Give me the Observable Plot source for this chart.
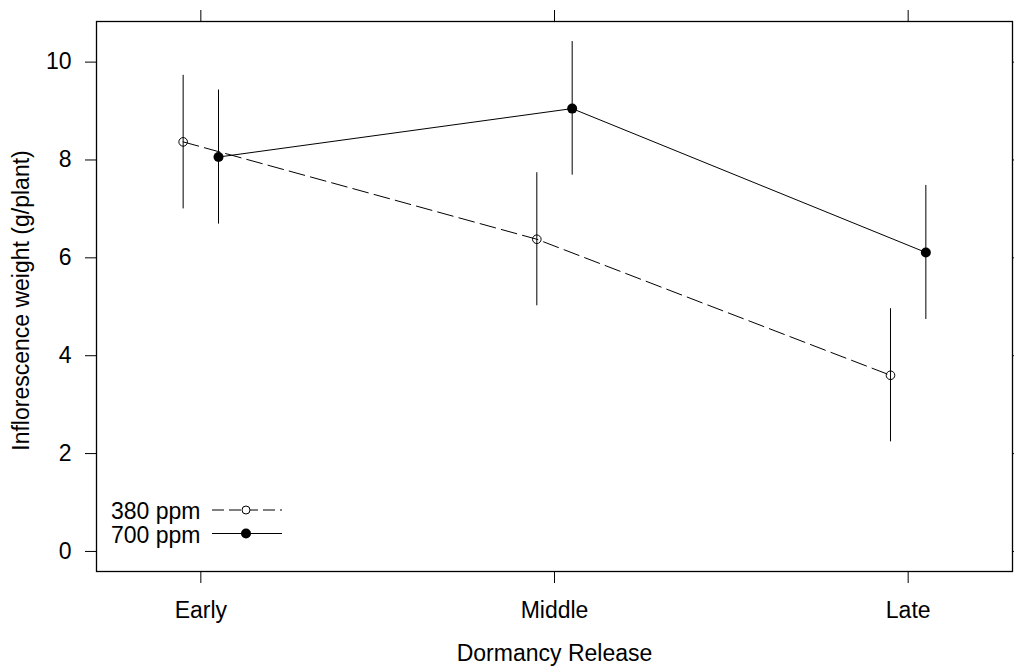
<!DOCTYPE html>
<html><head><meta charset="utf-8">
<script src="https://cdn.jsdelivr.net/npm/d3@7"></script>
<script src="https://cdn.jsdelivr.net/npm/@observablehq/plot@0.6"></script>
<style>body{margin:0;background:#fff} svg{display:block}</style>
</head><body><div id="chart"></div>
<script>
const categories = ["Early", "Middle", "Late"];
const seriesNames = ["380 ppm", "700 ppm"];
const mean380 = [8.37, 6.38, 3.60];
const lo380   = [7.00, 5.02, 2.24];
const hi380   = [9.73, 7.74, 4.96];
const mean700 = [8.06, 9.05, 6.11];
const lo700   = [6.69, 7.69, 4.74];
const hi700   = [9.43, 10.42, 7.48];
const yTicks = [0, 2, 4, 6, 8, 10];
const xLabel = "Dormancy Release";
const yLabel = "Inflorescence weight (g/plant)";

const OFFSET = 0.05;
const rows380 = categories.map((c, i) => ({series: seriesNames[0], cat: c, pos: i + 1 - OFFSET, mean: mean380[i], lo: lo380[i], hi: hi380[i]}));
const rows700 = categories.map((c, i) => ({series: seriesNames[1], cat: c, pos: i + 1 + OFFSET, mean: mean700[i], lo: lo700[i], hi: hi700[i]}));
const rows = rows380.concat(rows700);

const font = "'Liberation Sans', Arial, Helvetica, sans-serif";
const fs = 23;
const DASH = "16,6";

const plot = Plot.plot({
  width: 1014, height: 672,
  marginLeft: 96, marginRight: 2, marginTop: 21, marginBottom: 101,
  style: {fontFamily: font, fontSize: fs + "px", color: "black", background: "white", overflow: "visible"},
  x: {type: "linear", domain: [0.705, 3.295]},
  y: {domain: [-0.41, 10.83]},
  marks: [
    Plot.axisX({anchor: "bottom", ticks: [1, 2, 3], tickFormat: d => categories[d - 1], tickSize: 12, tickPadding: 18, label: null, fontSize: fs, stroke: "black"}),
    Plot.axisX({anchor: "top", ticks: [1, 2, 3], tickFormat: () => "", tickSize: 12, label: null, stroke: "black"}),
    Plot.axisY({anchor: "left", ticks: yTicks, tickSize: 11, tickPadding: 14, label: null, fontSize: fs, stroke: "black"}),
    Plot.axisY({anchor: "right", ticks: yTicks, tickFormat: () => "", tickSize: 12, label: null, stroke: "black"}),
    Plot.text([yLabel], {frameAnchor: "left", dx: -68, dy: 4, rotate: -90, lineAnchor: "bottom", textAnchor: "middle", fontSize: fs, fill: "black"}),
    Plot.text([xLabel], {frameAnchor: "bottom", dy: 89, lineAnchor: "bottom", textAnchor: "middle", fontSize: fs, fill: "black"}),
    Plot.line(rows380, {x: "pos", y: "mean", stroke: "black", strokeWidth: 1, strokeDasharray: DASH}),
    Plot.line(rows700, {x: "pos", y: "mean", stroke: "black", strokeWidth: 1}),
    Plot.ruleX(rows, {x: "pos", y1: "lo", y2: "hi", stroke: "black", strokeWidth: 1}),
    Plot.dot(rows380, {x: "pos", y: "mean", r: 4.3, stroke: "black", fill: "none", strokeWidth: 1}),
    Plot.dot(rows700, {x: "pos", y: "mean", r: 5, fill: "black", stroke: "none"}),
    Plot.frame({stroke: "black", strokeWidth: 1.3})
  ]
});

// in-panel key (bottom-left), as in the lattice original
const svg = d3.select(plot);
const key = svg.append("g").attr("font-family", font).attr("font-size", fs).attr("text-anchor", "start");
const keyItems = [
  {label: seriesNames[0], dash: "12,5", open: true},
  {label: seriesNames[1], dash: null, open: false}
];
keyItems.forEach((k, i) => {
  const yBase = 519 + i * 24;
  const yLine = 510 + i * 23.5;
  key.append("text").attr("x", 111).attr("y", yBase).attr("fill", "black").attr("text-anchor", "start").text(k.label);
  const ln = key.append("line").attr("x1", 212).attr("x2", 282).attr("y1", yLine).attr("y2", yLine)
    .attr("stroke", "black").attr("stroke-width", 1);
  if (k.dash) ln.attr("stroke-dasharray", k.dash);
  key.append("circle").attr("cx", 246).attr("cy", yLine).attr("r", k.open ? 4 : 5)
    .attr("fill", k.open ? "white" : "black").attr("stroke", k.open ? "black" : "none");
});

document.getElementById("chart").appendChild(plot);
</script>
</body></html>
